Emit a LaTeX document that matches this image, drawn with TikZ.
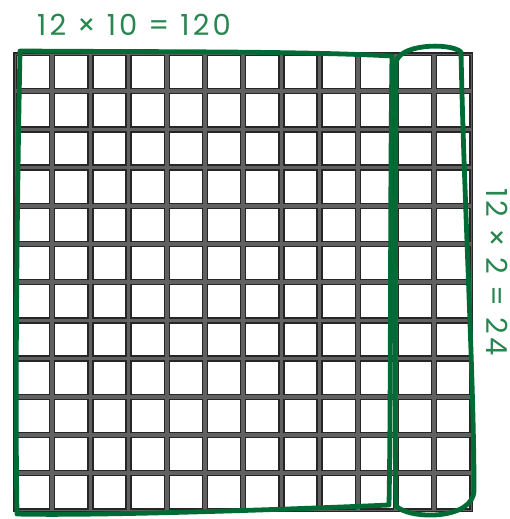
\documentclass[tikz,border=0pt]{standalone}
\usepackage{fontspec}
\setmainfont{Poppins}[LetterSpace=11]
\definecolor{markgreen}{RGB}{0,107,53}
\definecolor{textgreen}{RGB}{40,135,80}

\begin{document}
\begin{tikzpicture}[x=1pt, y=-1pt,
      frame/.style={draw=black!85, line width=1.6pt, fill=black!62},
      cellbox/.style={fill=white, draw=black!85, line width=1.4pt},
      loopmark/.style={draw=markgreen, line width=4.8pt,
                       line cap=round, line join=round},
      sumlabel/.style={text=textgreen, inner sep=0pt,
                       font=\fontsize{29}{29}\selectfont},
    ]
    \useasboundingbox (0,0) rectangle (510,519);

    % ---- the 12 x 12 grid -------------------------------------------
    \draw[frame] (14,53) rectangle (472.4,511.4);
    \foreach \i in {0,...,11}
      \foreach \j in {0,...,11}
        \draw[cellbox] ({16.5+38.2*\i},{55.5+38.2*\j}) rectangle ++(33.2,33.2);

    % ---- green loops ------------------------------------------------
    \draw[loopmark] (20,51) .. controls (150,52) and (300,51) .. (392,56)
      .. controls (390,200) and (391,400) .. (389,505)
      .. controls (300,509) and (100,516) .. (17,514)
      .. controls (15,400) and (17,200) .. (20,51) -- cycle;
    \draw[loopmark] (396,64) .. controls (396,44) and (450,42) .. (461,52)
      .. controls (464,200) and (474,380) .. (474,490)
      .. controls (474,520) and (410,520) .. (396,506)
      .. controls (394,400) and (396,200) .. (396,64) -- cycle;

    % ---- labels -----------------------------------------------------
    \node[sumlabel] (rowsum) at (134,25) {12 × 10 = 120};
    \node[sumlabel, rotate=-90] (colsum) at (497,272) {12 × 2 = 24};

\end{tikzpicture}
\end{document}
